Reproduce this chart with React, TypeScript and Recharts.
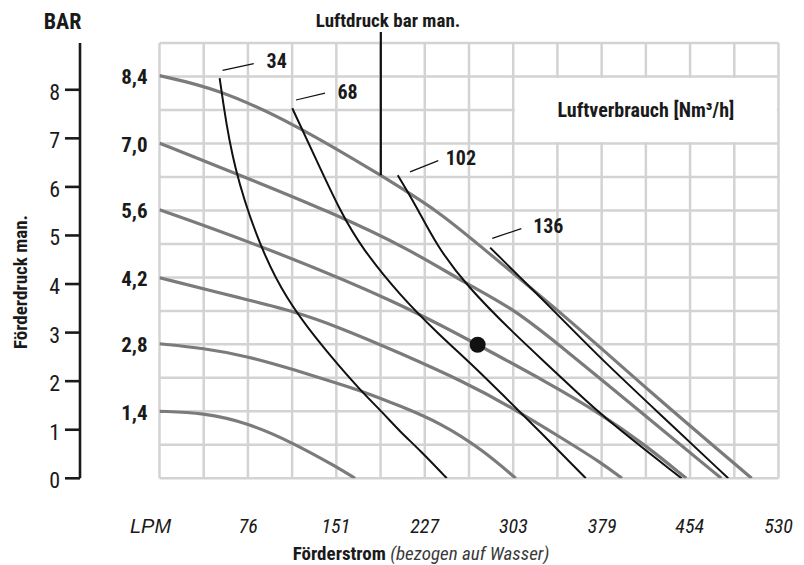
import React from "react";
import {
  ComposedChart,
  Line,
  XAxis,
  YAxis,
  CartesianGrid,
  ReferenceArea,
  ReferenceLine,
  ReferenceDot,
} from "recharts";

const FONT = "'Liberation Sans Narrow', 'Roboto Condensed', 'DejaVu Sans Condensed', 'Arial Narrow', sans-serif";

// Förderstrom axis (l/min)
const flowTicks = [0, 76, 151, 227, 303, 379, 454, 530];
const flowLabels = ["LPM", "76", "151", "227", "303", "379", "454", "530"];
const flowMax = 530;
const flowGridCols = 14;

// Förderdruck axis (bar)
const headTicks = [0, 1, 2, 3, 4, 5, 6, 7, 8];
const headMax = 8.963;
const headGridRows = 13;

// Luftdruck curves (grey), [l/min, bar]
const p14 = [[0, 1.38], [37.2, 1.35], [75.8, 1.14], [114.3, 0.73], [152, 0.23], [167.4, 0]];
const p28 = [[0, 2.77], [37.5, 2.68], [76, 2.51], [114.6, 2.24], [151.7, 1.96], [174, 1.79], [206, 1.49], [240.6, 1.14], [277, 0.58], [305, 0]];
const p42 = [[0, 4.13], [74.7, 3.68], [114.6, 3.44], [151.7, 3.13], [205.9, 2.58], [263, 1.96], [300, 1.48], [347, 0.79], [377, 0.34], [396, 0]];
const p56 = [[0, 5.53], [91.4, 4.75], [205.9, 3.61], [272.4, 2.75], [334, 1.95], [377, 1.34], [415.7, 0.69], [451, 0]];
const p70 = [[0, 6.9], [62.9, 6.3], [148, 5.47], [214.5, 4.71], [263, 4.0], [303, 3.5], [347, 2.65], [377, 2.06], [428.5, 1.04], [481, 0]];
const p84 = [[0, 8.29], [50.5, 8.02], [116, 7.29], [189.7, 6.24], [240.6, 5.47], [276, 4.75], [347, 3.35], [418, 1.82], [507, 0]];
const pressureCurves = [p14, p28, p42, p56, p70, p84];
const pressureLabels = ["1,4", "2,8", "4,2", "5,6", "7,0", "8,4"];

// Luftverbrauch curves (black), [l/min, bar]
const air34 = [[51.5, 8.24], [54, 7.81], [62.9, 6.43], [86, 4.75], [108.9, 3.68], [134.6, 2.86], [151.7, 2.37], [171.7, 1.82], [191.6, 1.34], [206, 0.96], [223, 0.58], [246, 0]];
const air68 = [[113.7, 7.62], [134, 6.57], [155.3, 5.47], [173, 4.75], [206, 3.76], [240.2, 2.94], [265.9, 2.38], [293.8, 1.72], [325.8, 0.96], [365, 0]];
const air102 = [[204, 6.24], [219.3, 5.63], [237, 4.8], [263, 3.96], [303, 2.99], [340, 2.17], [377, 1.31], [447, 0]];
const air136 = [[283.1, 4.75], [336.5, 3.48], [377.1, 2.48], [428.5, 1.32], [487, 0]];
const airCurves = [air34, air68, air102, air136];
const airLabels = ["34", "68", "102", "136"];
const airLabelPos = [[100.3, 8.6], [161, 7.96], [258.1, 6.59], [332.9, 5.2]];
const airLeaders = [
  [[54, 8.4], [80.7, 8.54]],
  [[116.9, 7.79], [141.7, 7.93]],
  [[214.5, 6.31], [238.7, 6.54]],
  [[284.9, 4.94], [309.8, 5.14]],
];

const operatingPoint = [[272.4, 2.75]];
const luftdruckMarker = [[189.5, 6.24], [189.5, 9.19]];
const boxFlow = [302.86, 530];
const boxHead = [6.895, 8.274];

const toPts = (arr: number[][]) => arr.map(([x, y]) => ({ x, y }));

const W = 790;
const H = 557;

const FlowTick = (props: any) => {
  const { x, y, payload } = props;
  const first = payload.value === 0;
  return (
    <text
      x={first ? x - 9 : x}
      y={y}
      dy="0.71em"
      textAnchor="middle"
      fontFamily={first ? "'Liberation Sans', Arial, sans-serif" : FONT}
      fontStyle="italic"
      fontSize={20}
      fill="#1a1a1a"
    >
      {flowLabels[flowTicks.indexOf(payload.value)]}
    </text>
  );
};

const HeadTick = (props: any) => {
  const { x, y, payload } = props;
  return (
    <text x={x} y={y} dy="0.45em" textAnchor="end" fontFamily={FONT} fontSize={22} fill="#1a1a1a">
      {payload.value}
    </text>
  );
};

const startValues = pressureCurves.map((c) => c[0][1]);

const PressureTick = (props: any) => {
  const { x, y, payload } = props;
  return (
    <text x={x} y={y} dy="0.4em" textAnchor="end" fontFamily={FONT} fontWeight={700} fontSize={21} fill="#1a1a1a">
      {pressureLabels[startValues.indexOf(payload.value)]}
    </text>
  );
};

export default function App() {
  const gridX = Array.from({ length: flowGridCols + 1 }, (_, i) => (i * flowMax) / flowGridCols);
  const gridY = Array.from({ length: headGridRows + 1 }, (_, i) => (i * headMax) / headGridRows);

  return (
    <div style={{ position: "relative", width: W, height: H }}>
      <ComposedChart width={W} height={H} margin={{ top: 35, right: 19.5, bottom: 26.7, left: 0 }}>
        <CartesianGrid
          yAxisId="a"
          stroke="#d3d3d3"
          strokeWidth={2.5}
          verticalCoordinatesGenerator={({ offset }: any) =>
            gridX.map((v) => offset.left + (v / flowMax) * offset.width)
          }
          horizontalCoordinatesGenerator={({ offset }: any) =>
            gridY.map((v) => offset.top + offset.height - (v / headMax) * offset.height)
          }
        />
        <XAxis
          dataKey="x"
          type="number"
          domain={[0, flowMax]}
          ticks={flowTicks}
          allowDataOverflow
          axisLine={false}
          tickLine={false}
          tickSize={0}
          tickMargin={40}
          height={60}
          tick={<FlowTick />}
          interval={0}
        />
        {/* inner axis: air pressure labels at the curve starts */}
        <YAxis
          yAxisId="a"
          type="number"
          domain={[0, headMax]}
          ticks={startValues}
          allowDataOverflow
          axisLine={false}
          tickLine={false}
          tickSize={0}
          tickMargin={12}
          width={79.5}
          tick={<PressureTick />}
          interval={0}
        />
        {/* outer axis: Förderdruck in bar */}
        <YAxis
          yAxisId="b"
          type="number"
          domain={[0, headMax]}
          ticks={headTicks}
          allowDataOverflow
          axisLine={{ stroke: "#1a1a1a", strokeWidth: 2.6 }}
          tickLine={{ stroke: "#1a1a1a", strokeWidth: 2.6 }}
          tickSize={15}
          tickMargin={5}
          width={72}
          tick={<HeadTick />}
          interval={0}
        />
        <ReferenceArea
          yAxisId="a"
          x1={boxFlow[0] + 1.4}
          x2={boxFlow[1] - 1.4}
          y1={boxHead[0] + 0.03}
          y2={boxHead[1] - 0.03}
          fill="#ffffff"
          fillOpacity={1}
          stroke="none"
          label={{
            value: "Luftverbrauch [Nm³/h]",
            position: "center",
            fill: "#1a1a1a",
            fontSize: 20,
            fontWeight: 700,
            fontFamily: FONT,
          }}
        />
        {pressureCurves.map((c, i) => (
          <Line
            key={"p" + i}
            yAxisId="a"
            data={toPts(c)}
            dataKey="y"
            type="basis"
            stroke="#7b7b7b"
            strokeWidth={3.2}
            dot={false}
            activeDot={false}
            isAnimationActive={false}
          />
        ))}
        {airCurves.map((c, i) => (
          <Line
            key={"a" + i}
            yAxisId="a"
            data={toPts(c)}
            dataKey="y"
            type="basis"
            stroke="#111111"
            strokeWidth={2}
            dot={false}
            activeDot={false}
            isAnimationActive={false}
          />
        ))}
        {airLeaders.map((seg, i) => (
          <ReferenceLine
            key={"l" + i}
            yAxisId="a"
            segment={toPts(seg)}
            stroke="#111111"
            strokeWidth={1.2}
            ifOverflow="visible"
          />
        ))}
        {airLabelPos.map(([x, y], i) => (
          <ReferenceDot
            key={"t" + i}
            yAxisId="a"
            x={x}
            y={y}
            r={1}
            fill="none"
            stroke="none"
            ifOverflow="visible"
            label={{
              value: airLabels[i],
              position: "center",
              fill: "#1a1a1a",
              fontSize: 20,
              fontWeight: 700,
              fontFamily: FONT,
            }}
          />
        ))}
        <ReferenceLine
          yAxisId="a"
          segment={toPts(luftdruckMarker)}
          stroke="#111111"
          strokeWidth={2.2}
          ifOverflow="visible"
        />
        {operatingPoint.map(([x, y], i) => (
          <ReferenceDot
            key={"o" + i}
            yAxisId="a"
            x={x}
            y={y}
            r={8}
            fill="#111111"
            stroke="none"
          />
        ))}
      </ComposedChart>
      <svg
        width={W}
        height={H}
        style={{ position: "absolute", left: 0, top: 0, pointerEvents: "none" }}
      >
        <text x={54.5} y={21} textAnchor="middle" fontFamily={FONT} fontWeight={700} fontSize={22} fill="#1a1a1a">
          BAR
        </text>
        <text x={380} y={19} textAnchor="middle" fontFamily={FONT} fontWeight={700} fontSize={19} fill="#1a1a1a">
          Luftdruck bar man.
        </text>
        <text
          x={12}
          y={274}
          textAnchor="middle"
          dominantBaseline="central"
          transform="rotate(-90, 12, 274)"
          fontFamily={FONT}
          fontWeight={700}
          fontSize={19}
          fill="#1a1a1a"
        >
          Förderdruck man.
        </text>
        <text x={413} y={552} textAnchor="middle" fontFamily={FONT} fontSize={19} fill="#1a1a1a">
          <tspan fontWeight={700}>Förderstrom</tspan>
          <tspan fontStyle="italic" fill="#3a3a3a"> (bezogen auf Wasser)</tspan>
        </text>
      </svg>
    </div>
  );
}
